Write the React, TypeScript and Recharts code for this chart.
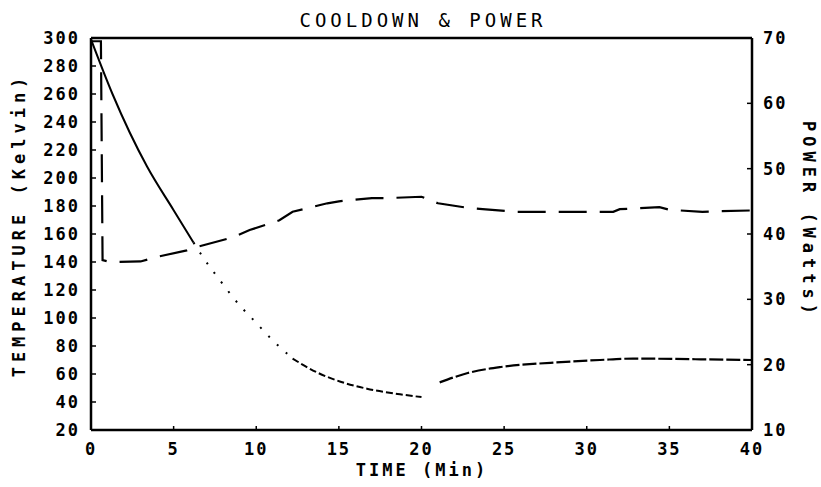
import { ComposedChart, Line, XAxis, YAxis, ReferenceLine } from 'recharts';

// cooldown temperature (K) vs time (min)
const coolTimes = [0, 1.3, 3.4, 5, 6.2, 6.8, 7.8, 9, 9.8, 11, 12.2, 13.7, 15.1, 16.7, 18.7, 20];
const coolTemps = [299, 260, 208, 177, 154, 143, 127, 109, 99, 84, 71, 61, 54.5, 49.5, 45.5, 43.5];

// temperature after the step at ~21 min
const holdTimes = [21.1, 22.8, 24.8, 27.8, 30.8, 32.8, 36.9, 40];
const holdTemps = [54, 60.7, 65, 68, 70, 71, 70.5, 70];

// power (W)
const powerTimes = [0, 0.6, 0.7, 1.2, 3, 4, 5.8, 6.4, 8.6, 9.6, 11.4, 12.2, 14.3, 15, 17, 18, 20, 21, 22.8, 23.7, 25.8, 28.6, 31.6, 32, 34.4, 35, 37, 38, 40];
const powerWatts = [69.5, 69.5, 36, 35.7, 35.8, 36.5, 37.5, 38, 39.5, 40.6, 42.1, 43.4, 44.7, 45, 45.5, 45.5, 45.7, 44.7, 44, 43.8, 43.4, 43.4, 43.4, 43.8, 44.1, 43.7, 43.4, 43.5, 43.6];

const timeTicks = [0, 5, 10, 15, 20, 25, 30, 35, 40];
const tempTicks = [20, 40, 60, 80, 100, 120, 140, 160, 180, 200, 220, 240, 260, 280, 300];
const powerTicks = [10, 20, 30, 40, 50, 60, 70];

const FONT = '"DejaVu Sans Mono", monospace';

const toRows = (ts: number[], vs: number[]) => ts.map((t, i) => ({ t, v: vs[i] }));
const cool = toRows(coolTimes, coolTemps);
const coolSolid = cool.filter((d) => d.t <= 6.2);
const coolSparse = cool.filter((d) => d.t >= 6.2 && d.t <= 12.2);
const coolDense = cool.filter((d) => d.t >= 12.2);
const hold = toRows(holdTimes, holdTemps);
const power = toRows(powerTimes, powerWatts);

const tickStyle = { fill: '#000', fontSize: 17, fontFamily: FONT, fontWeight: 'bold', letterSpacing: 2 };
const axisStyle = { stroke: '#000', strokeWidth: 2.5 };

const labelBase: React.CSSProperties = {
  position: 'absolute',
  fontFamily: FONT,
  fontSize: 17,
  fontWeight: 'bold',
  color: '#000',
  whiteSpace: 'nowrap',
  lineHeight: 1,
};

export default function App() {
  return (
    <div style={{ position: 'absolute', left: 0, top: 0, width: 821, height: 487, background: '#fff' }}>
      <ComposedChart width={821} height={487} margin={{ top: 38, right: 0, bottom: 0, left: 0 }}>
        <XAxis
          type="number"
          dataKey="t"
          domain={[0, 40]}
          ticks={timeTicks}
          allowDataOverflow
          height={57}
          tickSize={-4}
          tickMargin={17}
          tick={tickStyle}
          axisLine={axisStyle}
          tickLine={{ stroke: '#000', strokeWidth: 1.5 }}
        />
        <YAxis
          yAxisId="temp"
          type="number"
          domain={[20, 300]}
          ticks={tempTicks}
          allowDataOverflow
          width={91}
          tickSize={-5}
          tickMargin={16}
          tick={tickStyle}
          axisLine={axisStyle}
          tickLine={{ stroke: '#000', strokeWidth: 1.5 }}
        />
        <YAxis
          yAxisId="power"
          orientation="right"
          type="number"
          domain={[10, 70]}
          ticks={powerTicks}
          allowDataOverflow
          width={69}
          tickSize={-5}
          tickMargin={16}
          tick={{ ...tickStyle, textAnchor: 'start' }}
          axisLine={axisStyle}
          tickLine={{ stroke: '#000', strokeWidth: 1.5 }}
        />
        <ReferenceLine yAxisId="temp" y={300} stroke="#000" strokeWidth={2.5} />
        {/* temperature: solid, then sparse dots, then denser */}
        <Line yAxisId="temp" data={coolSolid} dataKey="v" type="monotone" stroke="#000" strokeWidth={2} dot={false} isAnimationActive={false} />
        <Line yAxisId="temp" data={coolSparse} dataKey="v" type="monotone" stroke="#000" strokeWidth={2} strokeDasharray="2 10" dot={false} isAnimationActive={false} />
        <Line yAxisId="temp" data={coolDense} dataKey="v" type="monotone" stroke="#000" strokeWidth={2} strokeDasharray="7 3" dot={false} isAnimationActive={false} />
        <Line yAxisId="temp" data={hold} dataKey="v" type="monotone" stroke="#000" strokeWidth={2.2} strokeDasharray="14 3" dot={false} isAnimationActive={false} />
        {/* power, long dashes */}
        <Line yAxisId="power" data={power} dataKey="v" type="linear" stroke="#000" strokeWidth={2.2} strokeDasharray="28 13" dot={false} isAnimationActive={false} />
      </ComposedChart>
      <div style={{ ...labelBase, left: 423, top: 20, transform: 'translate(-50%, -50%)', fontWeight: 'normal', fontSize: 19, letterSpacing: 4 }}>
        COOLDOWN &amp; POWER
      </div>
      <div style={{ ...labelBase, left: 422, top: 470, transform: 'translate(-50%, -50%)', letterSpacing: 3 }}>
        TIME (Min)
      </div>
      <div style={{ ...labelBase, left: 19, top: 225, transform: 'translate(-50%, -50%) rotate(-90deg)', letterSpacing: 5 }}>
        TEMPERATURE (Kelvin)
      </div>
      <div style={{ ...labelBase, left: 808, top: 220, transform: 'translate(-50%, -50%) rotate(90deg)', letterSpacing: 5 }}>
        POWER (Watts)
      </div>
    </div>
  );
}
